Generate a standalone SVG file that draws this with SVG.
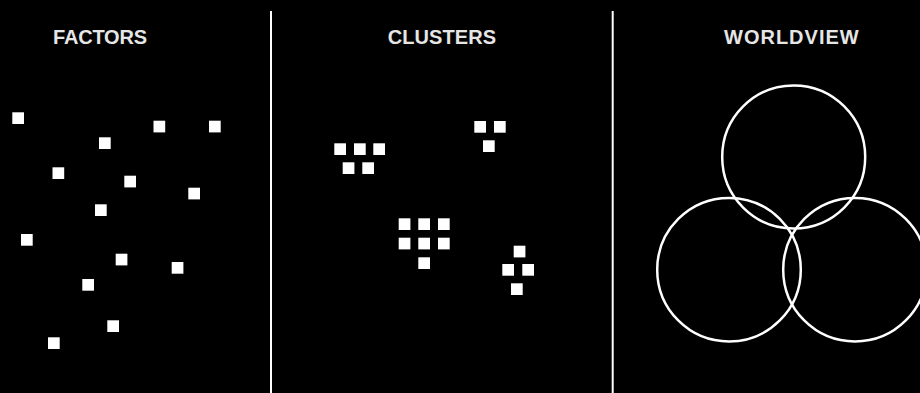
<svg xmlns="http://www.w3.org/2000/svg" width="920" height="393" viewBox="0 0 920 393">
<style>
.bg{fill:#000}
.t{font-family:"Liberation Sans",Arial,sans-serif;font-weight:bold;font-size:20px;fill:#e6e6e6}
.sq{fill:#fff}
.div{stroke:#fff;stroke-width:2;fill:none}
.c{fill:none;stroke:#fff;stroke-width:2.5}
</style>
<rect class="bg" x="0" y="0" width="920" height="393"/>
<g id="dividers">
<line class="div" x1="271" y1="11" x2="271" y2="393"/>
<line class="div" x1="612.7" y1="11" x2="612.7" y2="393"/>
</g>
<g id="factors">
<text class="t" x="53" y="44" textLength="94">FACTORS</text>
<rect class="sq" x="12.3" y="112.3" width="11.7" height="11.7"/>
<rect class="sq" x="99" y="137.3" width="11.7" height="11.7"/>
<rect class="sq" x="153.5" y="120.7" width="11.7" height="11.7"/>
<rect class="sq" x="209" y="120.7" width="11.7" height="11.7"/>
<rect class="sq" x="52.5" y="167.3" width="11.7" height="11.7"/>
<rect class="sq" x="124.3" y="175.7" width="11.7" height="11.7"/>
<rect class="sq" x="188.3" y="187.7" width="11.7" height="11.7"/>
<rect class="sq" x="95" y="204.3" width="11.7" height="11.7"/>
<rect class="sq" x="21" y="234" width="11.7" height="11.7"/>
<rect class="sq" x="115.7" y="253.7" width="11.7" height="11.7"/>
<rect class="sq" x="171.7" y="262" width="11.7" height="11.7"/>
<rect class="sq" x="82.3" y="279" width="11.7" height="11.7"/>
<rect class="sq" x="107.3" y="320.3" width="11.7" height="11.7"/>
<rect class="sq" x="48" y="337.3" width="11.7" height="11.7"/>
</g>
<g id="clusters">
<text class="t" x="387.7" y="44" textLength="108.3">CLUSTERS</text>
<rect class="sq" x="334.3" y="143.3" width="11.7" height="11.7"/>
<rect class="sq" x="354" y="143.3" width="11.7" height="11.7"/>
<rect class="sq" x="373.3" y="143.3" width="11.7" height="11.7"/>
<rect class="sq" x="342.7" y="162.3" width="11.7" height="11.7"/>
<rect class="sq" x="362.3" y="162.3" width="11.7" height="11.7"/>
<rect class="sq" x="474.3" y="121" width="11.7" height="11.7"/>
<rect class="sq" x="494" y="121" width="11.7" height="11.7"/>
<rect class="sq" x="483" y="140.3" width="11.7" height="11.7"/>
<rect class="sq" x="398.7" y="218.3" width="11.7" height="11.7"/>
<rect class="sq" x="418.3" y="218.3" width="11.7" height="11.7"/>
<rect class="sq" x="438" y="218.3" width="11.7" height="11.7"/>
<rect class="sq" x="398.7" y="237.7" width="11.7" height="11.7"/>
<rect class="sq" x="418.3" y="237.7" width="11.7" height="11.7"/>
<rect class="sq" x="438" y="237.7" width="11.7" height="11.7"/>
<rect class="sq" x="418.3" y="257.3" width="11.7" height="11.7"/>
<rect class="sq" x="513.7" y="245.7" width="11.7" height="11.7"/>
<rect class="sq" x="502.3" y="264" width="11.7" height="11.7"/>
<rect class="sq" x="522.3" y="264" width="11.7" height="11.7"/>
<rect class="sq" x="511" y="283.3" width="11.7" height="11.7"/>
</g>
<g id="worldview">
<text class="t" x="724" y="44" textLength="134.7">WORLDVIEW</text>
<circle class="c" cx="793.7" cy="157" r="71.5"/>
<circle class="c" cx="729" cy="269.7" r="71.8"/>
<circle class="c" cx="855" cy="269.7" r="71.8"/>
</g>
</svg>
